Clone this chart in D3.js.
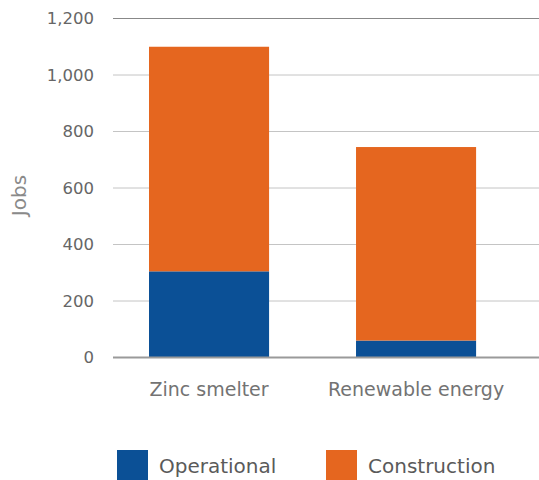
<!DOCTYPE html>
<html>
<head>
<meta charset="utf-8">
<script src="https://cdn.jsdelivr.net/npm/d3@7"></script>
<style>
  body { margin: 0; background: #fff; }
  text { font-family: "DejaVu Sans", "Open Sans", sans-serif; }
</style>
</head>
<body>
<div id="chart"></div>
<script>
var categories = ["Zinc smelter", "Renewable energy"];
var operational = [305, 60];
var construction = [795, 685];
var seriesNames = ["Operational", "Construction"];
var seriesColors = ["#0b5096", "#e5661f"];
var yTicks = [0, 200, 400, 600, 800, 1000, 1200];

var fullW = 539, fullH = 480;
var margin = {top: 18.5, right: 0, bottom: 122.5, left: 113};
var w = fullW - margin.left - margin.right;
var h = fullH - margin.top - margin.bottom;

var svg = d3.select("#chart").append("svg")
    .attr("width", fullW)
    .attr("height", fullH);

var g = svg.append("g")
    .attr("transform", "translate(" + margin.left + "," + margin.top + ")");

var rows = categories.map(function(c, i) {
    return {cat: c, Operational: operational[i], Construction: construction[i]};
});

var x = d3.scaleBand()
    .domain(categories)
    .range([-5.4, 404.5])
    .paddingInner(0.42)
    .paddingOuter(0.2);

var y = d3.scaleLinear()
    .domain([0, 1200])
    .range([h, 0]);

// gridlines
g.append("g")
    .attr("class", "grid")
    .selectAll("line")
    .data(yTicks)
    .enter().append("line")
    .attr("x1", 0)
    .attr("x2", w)
    .attr("y1", function(d) { return y(d); })
    .attr("y2", function(d) { return y(d); })
    .attr("stroke", function(d) { return d == 1200 ? "#888" : "#c4c4c4"; })
    .attr("stroke-width", 1);

var yAxis = d3.axisLeft(y)
    .tickValues(yTicks)
    .tickSize(0)
    .tickPadding(19)
    .tickFormat(d3.format(","));

g.append("g")
    .attr("class", "y-axis")
    .call(yAxis)
    .call(function(s) { s.select(".domain").remove(); })
    .selectAll("text")
    .attr("fill", "#666")
    .style("font-size", "16.5px");

var stack = d3.stack().keys(seriesNames);
var layers = stack(rows);

g.append("g")
    .selectAll("g")
    .data(layers)
    .enter().append("g")
    .attr("fill", function(d, i) { return seriesColors[i]; })
    .selectAll("rect")
    .data(function(d) { return d; })
    .enter().append("rect")
    .attr("x", function(d) { return x(d.data.cat); })
    .attr("y", function(d) { return y(d[1]); })
    .attr("width", x.bandwidth())
    .attr("height", function(d) { return y(d[0]) - y(d[1]); });

// baseline
g.append("line")
    .attr("x1", 0).attr("x2", w)
    .attr("y1", y(0)).attr("y2", y(0))
    .attr("stroke", "#9a9a9a")
    .attr("stroke-width", 2);

var xAxis = d3.axisBottom(x).tickSize(0).tickPadding(25);
g.append("g")
    .attr("class", "x-axis")
    .attr("transform", "translate(0," + h + ")")
    .call(xAxis)
    .call(function(s) { s.select(".domain").remove(); })
    .selectAll("text")
    .attr("fill", "#737373")
    .style("font-size", "19px");

svg.append("text")
    .attr("transform", "translate(26,195.5) rotate(-90)")
    .attr("text-anchor", "middle")
    .attr("fill", "#8a8a8a")
    .style("font-size", "20px")
    .text("Jobs");

// legend
var legendX = [117, 326];
var legend = svg.append("g").selectAll("g")
    .data(seriesNames)
    .enter().append("g")
    .attr("transform", function(d, i) { return "translate(" + legendX[i] + ",450)"; });

legend.append("rect")
    .attr("width", 31)
    .attr("height", 30)
    .attr("fill", function(d, i) { return seriesColors[i]; });

legend.append("text")
    .attr("x", 42)
    .attr("y", 16)
    .attr("dy", "0.35em")
    .attr("fill", "#5a5a5a")
    .style("font-size", "20px")
    .text(function(d) { return d; });
</script>
</body>
</html>
